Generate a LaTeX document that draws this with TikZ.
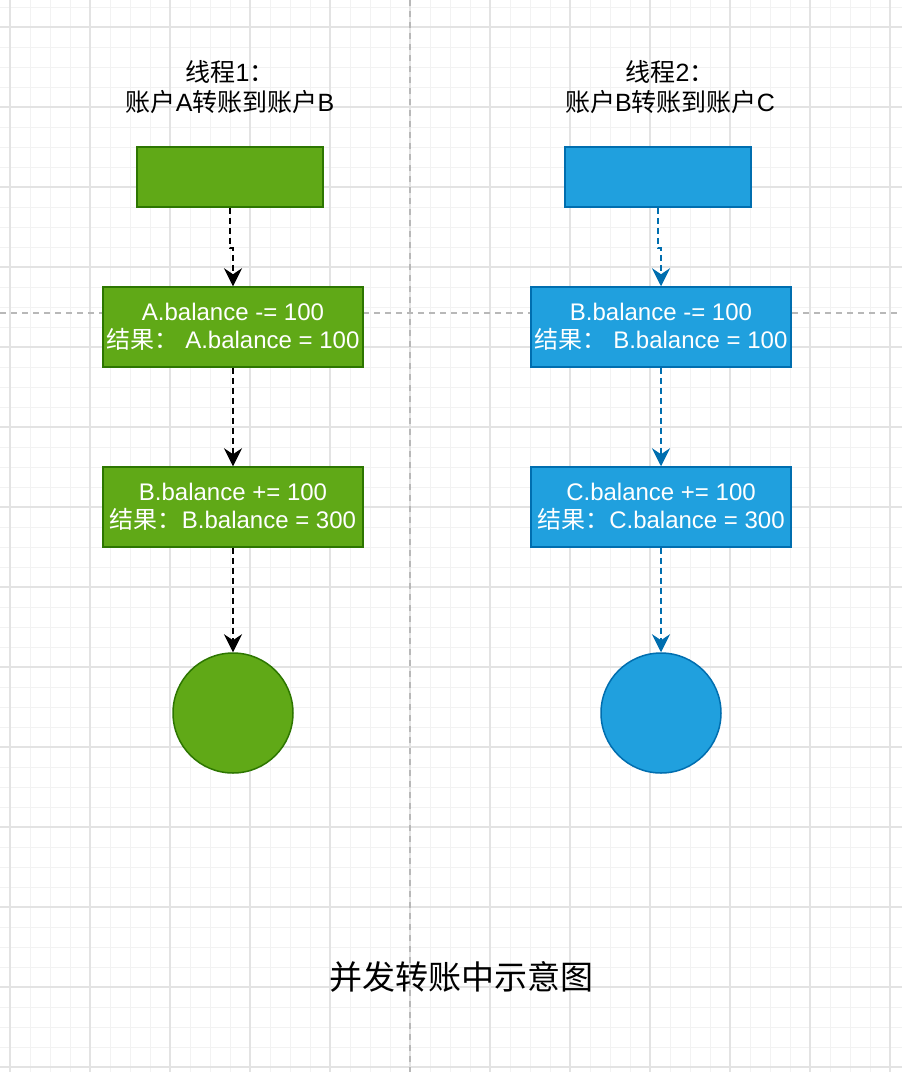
\documentclass[tikz,border=0pt]{standalone}
\usepackage{fontspec}
\setmainfont{Liberation Sans}
\newfontfamily\cjk{Noto Sans CJK SC}
\usetikzlibrary{arrows.meta}
\definecolor{gfill}{HTML}{60A917}
\definecolor{gline}{HTML}{2D7600}
\definecolor{bfill}{HTML}{20A0DE}
\definecolor{bline}{HTML}{006EAF}
\definecolor{gridminor}{HTML}{F2F2F2}
\definecolor{gridmajor}{HTML}{E3E3E3}
\definecolor{guide}{HTML}{B8B8B8}
\tikzset{
  minorline/.style={gridminor, line width=1pt},
  majorline/.style={gridmajor, line width=1.2pt},
  guideline/.style={guide, line width=1.3pt, dash pattern=on 6pt off 5pt},
  gbox/.style={draw=gline, fill=gfill, line width=1.5pt, text=white, align=center,
    font=\fontsize{24}{28}\selectfont, inner sep=0pt},
  bbox/.style={draw=bline, fill=bfill, line width=1.5pt, text=white, align=center,
    font=\fontsize{24}{28}\selectfont, inner sep=0pt},
  gcirc/.style={circle, draw=gline, fill=gfill, line width=1.5pt, minimum size=120pt, inner sep=0pt},
  bcirc/.style={circle, draw=bline, fill=bfill, line width=1.5pt, minimum size=120pt, inner sep=0pt},
  flow/.style={line width=1.5pt, dash pattern=on 6pt off 4pt,
    -{Stealth[length=18pt, width=18pt, inset=6pt]}},
  title/.style={align=center, font=\fontsize{25}{30}\selectfont, text=black},
}
\begin{document}
\begin{tikzpicture}[x=1pt, y=-1pt]
\useasboundingbox (0,0) rectangle (902,1072);
\fill[white] (0,0) rectangle (902,1072);
% grid
\foreach \gx in {10,30,...,900} \draw[minorline] (\gx,0) -- (\gx,1072);
\foreach \gy in {7,27,...,1070} \draw[minorline] (0,\gy) -- (902,\gy);
\foreach \gx in {10,90,...,900} \draw[majorline] (\gx,0) -- (\gx,1072);
\foreach \gy in {27,107,...,1070} \draw[majorline] (0,\gy) -- (902,\gy);
% guides
\draw[guideline] (410,0) -- (410,1072);
\draw[guideline] (0,313) -- (902,313);

% titles
\node[title] (t1) at (230,87) {{\cjk 线程}1{\cjk ：}\\{\cjk 账户}A{\cjk 转账到账户}B};
\node[title] (t2) at (670,87) {{\cjk 线程}2{\cjk ：}\\{\cjk 账户}B{\cjk 转账到账户}C};

% green column
\node[gbox, minimum width=186pt, minimum height=60pt] (g1) at (230,177) {};
\node[gbox, minimum width=260pt, minimum height=80pt] (g2) at (233,327)
  {A.balance -= 100\\{\cjk 结果：}\ A.balance = 100};
\node[gbox, minimum width=260pt, minimum height=80pt] (g3) at (233,507)
  {B.balance += 100\\{\cjk 结果：}B.balance = 300};
\node[gcirc] (g4) at (233,713) {};

% blue column
\node[bbox, minimum width=186pt, minimum height=60pt] (b1) at (658,177) {};
\node[bbox, minimum width=260pt, minimum height=80pt] (b2) at (661,327)
  {B.balance -= 100\\{\cjk 结果：}\ B.balance = 100};
\node[bbox, minimum width=260pt, minimum height=80pt] (b3) at (661,507)
  {C.balance += 100\\{\cjk 结果：}C.balance = 300};
\node[bcirc] (b4) at (661,713) {};

% connectors
\draw[flow, black] (g1.south) -- ++(0,40) -| (g2.north);
\draw[flow, black] (g2.south) -- (g3.north);
\draw[flow, black] (g3.south) -- (g4.north);
\draw[flow, bline] (b1.south) -- ++(0,40) -| (b2.north);
\draw[flow, bline] (b2.south) -- (b3.north);
\draw[flow, bline] (b3.south) -- (b4.north);

% caption
\node[font=\fontsize{33}{38}\selectfont\cjk] (cap) at (461,977) {并发转账中示意图};
\end{tikzpicture}
\end{document}
